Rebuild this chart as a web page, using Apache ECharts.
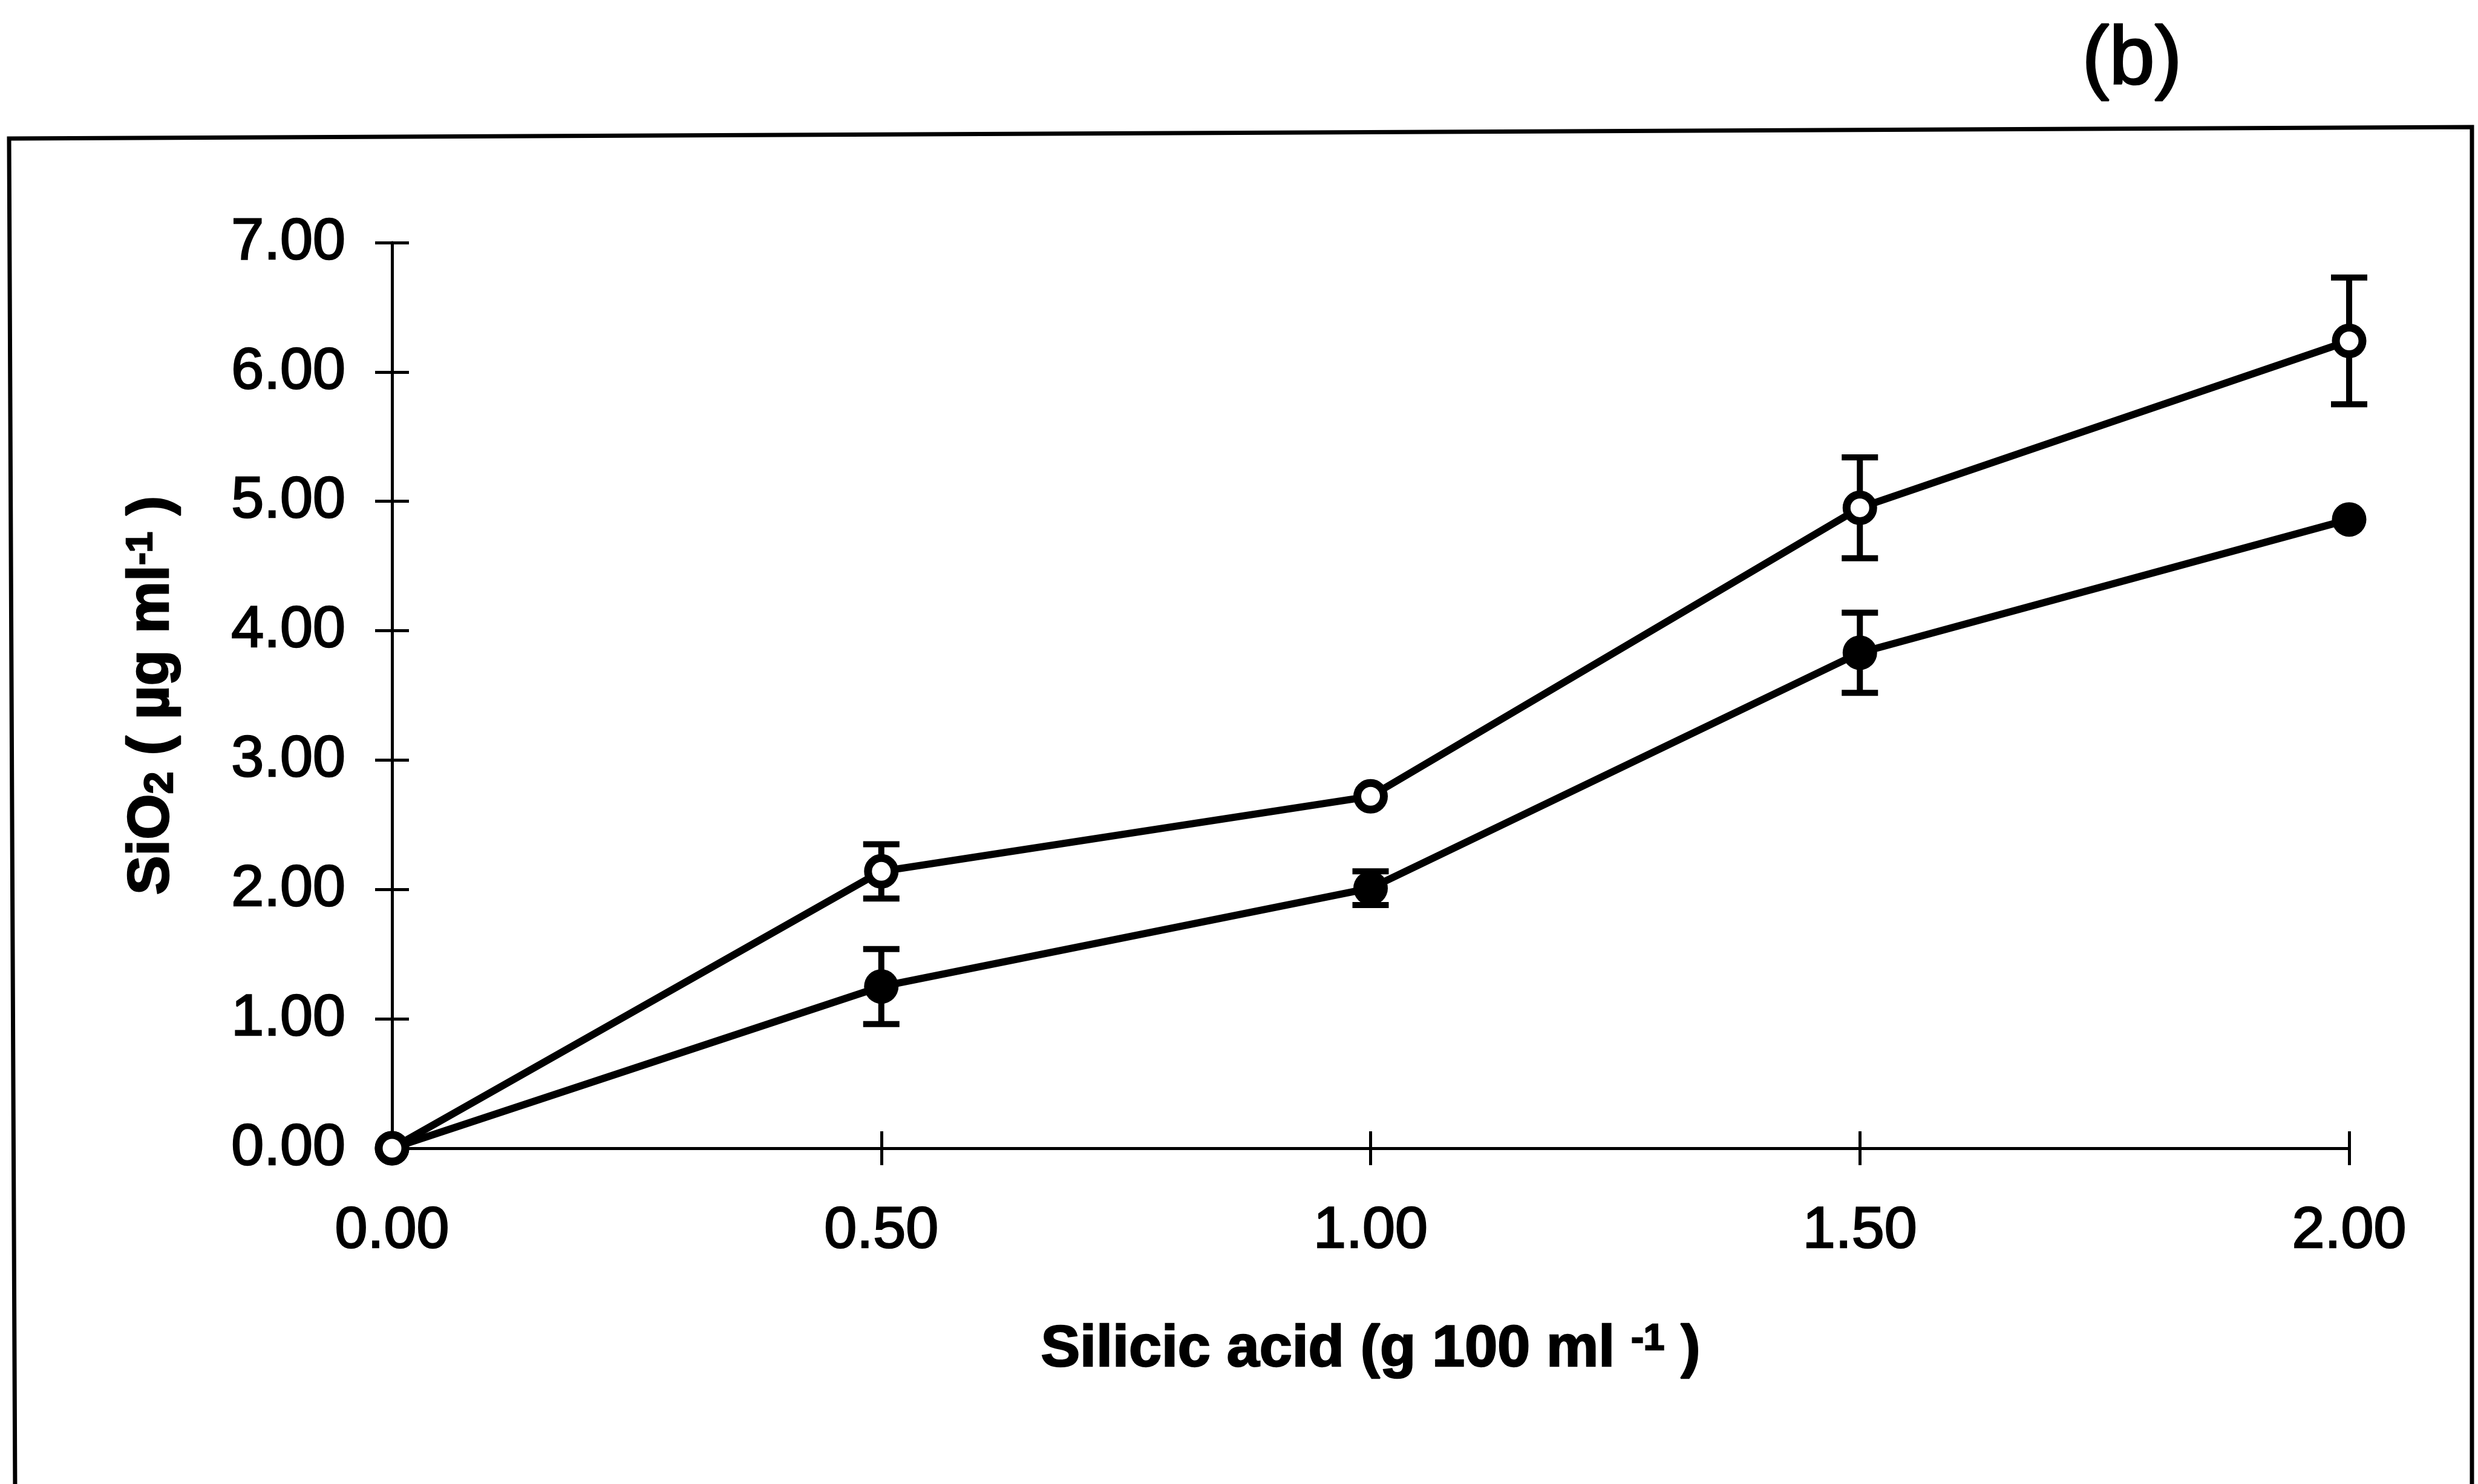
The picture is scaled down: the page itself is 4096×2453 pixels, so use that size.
<!DOCTYPE html>
<html>
<head>
<meta charset="utf-8">
<script src="https://cdn.jsdelivr.net/npm/echarts@6/dist/echarts.min.js"></script>
<style>
  html, body {margin: 0; padding: 0; background: #fff;}
  #main {width: 4096px; height: 2453px;}
</style>
</head>
<body>
<div id="main"></div>
<script>
// silicic acid concentration (g 100 ml-1)
var xVals = [0, 0.5, 1.0, 1.5, 2.0];
// open circles
var openMean = [0, 2.14, 2.72, 4.95, 6.24];
var openErr = [0, 0.21, 0, 0.39, 0.49];
// filled circles
var filledMean = [0, 1.25, 2.01, 3.83, 4.86];
var filledErr = [0, 0.29, 0.13, 0.31, 0];
// tick labels
var xTickLabels = ['0.00', '0.50', '1.00', '1.50', '2.00'];
var yTickLabels = ['0.00', '1.00', '2.00', '3.00', '4.00', '5.00', '6.00', '7.00'];

var FONT = 'Liberation Sans, Arial, sans-serif';

function pairs(ys) {
    return xVals.map(function (x, i) { return [x, ys[i]]; });
}

function errorSeries(means, errs) {
    var d = [];
    for (var i = 0; i < xVals.length; i++) {
        if (errs[i] > 0) d.push([xVals[i], means[i] - errs[i], means[i] + errs[i]]);
    }
    return {
        type: 'custom',
        z: 1,
        silent: true,
        clip: false,
        data: d,
        renderItem: function (params, api) {
            var lo = api.coord([api.value(0), api.value(1)]);
            var hi = api.coord([api.value(0), api.value(2)]);
            var half = 30;
            var st = {stroke: '#000', lineWidth: 10};
            return {
                type: 'group',
                children: [
                    {type: 'line', shape: {x1: lo[0], y1: lo[1], x2: hi[0], y2: hi[1]}, style: st},
                    {type: 'line', shape: {x1: lo[0] - half, y1: lo[1], x2: lo[0] + half, y2: lo[1]}, style: st},
                    {type: 'line', shape: {x1: hi[0] - half, y1: hi[1], x2: hi[0] + half, y2: hi[1]}, style: st}
                ]
            };
        }
    };
}

var axisLineStyle = {color: '#000', width: 5};
// scanned print: glyphs look heavier than plain Arial
var ink = {textBorderColor: '#000', textBorderWidth: 2.5};

var option = {
    backgroundColor: '#fff',
    animation: false,
    grid: {left: 648, right: 213, top: 401, bottom: 555, outerBoundsMode: 'none'},
    graphic: [
        {   // frame around the figure
            type: 'polyline',
            shape: {points: [[25, 2470], [15, 229], [4086, 210], [4086, 2470]]},
            style: {stroke: '#000', lineWidth: 7, fill: null}
        },
        {
            type: 'text',
            style: {
                text: '(b)', x: 3524, y: 101,
                font: '135px ' + FONT,
                fill: '#000', stroke: '#000', lineWidth: 3,
                textAlign: 'center', textVerticalAlign: 'middle'
            }
        }
    ],
    xAxis: [
        {
            type: 'value', min: 0, max: 2, interval: 0.5, position: 'bottom',
            axisLine: {onZero: false, lineStyle: axisLineStyle},
            axisTick: {length: 28, lineStyle: axisLineStyle},
            splitLine: {show: false},
            axisLabel: Object.assign({
                margin: 89, fontSize: 97, fontFamily: FONT, color: '#000',
                showMinLabel: true, showMaxLabel: true,
                formatter: function (v) { return xTickLabels[Math.round(v / 0.5)]; }
            }, ink),
            name: '{a|Silicic acid (g 100 ml }{s|-1}{a| )}',
            nameLocation: 'middle', nameGap: 285,
            nameTextStyle: {
                rich: {
                    a: Object.assign({fontSize: 97, fontWeight: 'bold', fontFamily: FONT, color: '#000'}, ink),
                    s: Object.assign({fontSize: 62, fontWeight: 'bold', fontFamily: FONT, color: '#000', verticalAlign: 'top'}, ink)
                }
            }
        },
        {   // second axis for the inner half of the crossing ticks
            type: 'value', min: 0, max: 2, interval: 0.5, position: 'bottom',
            axisLine: {show: false, onZero: false},
            axisTick: {inside: true, length: 28, lineStyle: axisLineStyle},
            splitLine: {show: false},
            axisLabel: {show: false}
        }
    ],
    yAxis: [
        {
            type: 'value', min: 0, max: 7, interval: 1, position: 'left',
            axisLine: {show: true, onZero: false, lineStyle: axisLineStyle},
            axisTick: {show: true, length: 28, lineStyle: axisLineStyle},
            splitLine: {show: false},
            axisLabel: Object.assign({
                margin: 77, fontSize: 97, fontFamily: FONT, color: '#000',
                showMinLabel: true, showMaxLabel: true,
                formatter: function (v) { return yTickLabels[Math.round(v)]; }
            }, ink),
            name: '{a|SiO}{b|2}{a| ( µg ml}{s|-1}{a| )}',
            nameLocation: 'middle', nameGap: 348, nameRotate: 90,
            nameTextStyle: {
                rich: {
                    a: Object.assign({fontSize: 97, fontWeight: 'bold', fontFamily: FONT, color: '#000'}, ink),
                    b: Object.assign({fontSize: 66, fontWeight: 'bold', fontFamily: FONT, color: '#000', verticalAlign: 'bottom'}, ink),
                    s: Object.assign({fontSize: 62, fontWeight: 'bold', fontFamily: FONT, color: '#000', verticalAlign: 'top'}, ink)
                }
            }
        },
        {
            type: 'value', min: 0, max: 7, interval: 1, position: 'left',
            axisLine: {show: false, onZero: false},
            axisTick: {show: true, inside: true, length: 28, lineStyle: axisLineStyle},
            splitLine: {show: false},
            axisLabel: {show: false}
        }
    ],
    series: [
        errorSeries(filledMean, filledErr),
        errorSeries(openMean, openErr),
        {
            name: 'filled', type: 'line', z: 2, silent: true, clip: false,
            data: pairs(filledMean),
            symbol: 'circle', symbolSize: 57, showSymbol: true,
            lineStyle: {color: '#000', width: 12},
            itemStyle: {color: '#000', borderWidth: 0}
        },
        {
            name: 'open', type: 'line', z: 2, silent: true, clip: false,
            data: pairs(openMean),
            symbol: 'circle', symbolSize: 44, showSymbol: true,
            lineStyle: {color: '#000', width: 12},
            itemStyle: {color: '#fff', borderColor: '#000', borderWidth: 13}
        }
    ]
};

var myChart = echarts.init(document.getElementById('main'));
myChart.setOption(option);
</script>
</body>
</html>
